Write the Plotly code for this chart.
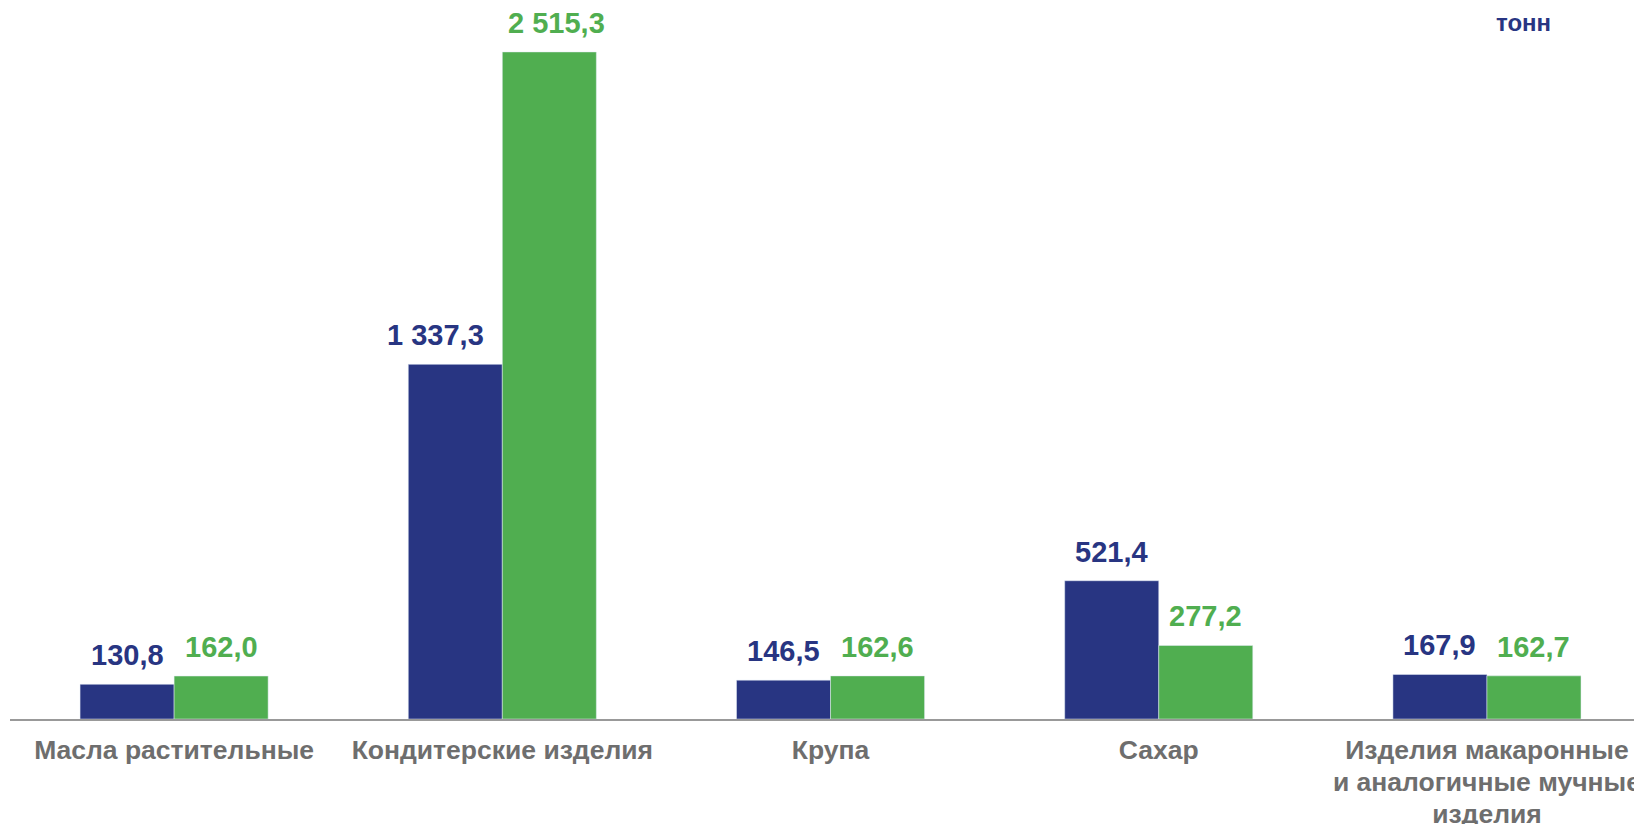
import plotly.graph_objects as go

categories = [
    "Масла растительные",
    "Кондитерские изделия",
    "Крупа",
    "Сахар",
    "Изделия макаронные<br>и аналогичные мучные<br>изделия",
]
series_blue = [130.8, 1337.3, 146.5, 521.4, 167.9]
series_green = [162.0, 2515.3, 162.6, 277.2, 162.7]
labels_blue = ["130,8", "1 337,3", "146,5", "521,4", "167,9"]
labels_green = ["162,0", "2 515,3", "162,6", "277,2", "162,7"]
unit_label = "тонн"

BLUE = "#283582"
GREEN = "#50AE50"
GREY = "#6E6E6E"
FONT = "Liberation Sans, Arial, sans-serif"

# small horizontal nudges of some value labels (px), as in the original layout
NUDGE_BLUE = {1: -20}
NUDGE_GREEN = {1: 7}

W, H = 1634, 824
ML, MR, MT, MB = 10, 0, 8, 105
XR = [-0.5, 4.448]
YR = [0, 2681]
BARGAP = 0.427

fig = go.Figure()
fig.add_trace(go.Bar(x=categories, y=series_blue, marker_color=BLUE, showlegend=False,
                     hoverinfo="skip"))
fig.add_trace(go.Bar(x=categories, y=series_green, marker_color=GREEN, showlegend=False,
                     hoverinfo="skip"))

cat_px = (W - ML - MR) / (XR[1] - XR[0])
half_bar = cat_px * (1 - BARGAP) / 4

annotations = []
for i, (cat, v, t) in enumerate(zip(categories, series_blue, labels_blue)):
    annotations.append(dict(x=cat, y=v, text=t, showarrow=False, xanchor="center",
                            yanchor="bottom", xshift=-half_bar + NUDGE_BLUE.get(i, 0), yshift=11,
                            font=dict(family=FONT, size=29, color=BLUE, weight="bold")))
for i, (cat, v, t) in enumerate(zip(categories, series_green, labels_green)):
    annotations.append(dict(x=cat, y=v, text=t, showarrow=False, xanchor="center",
                            yanchor="bottom", xshift=half_bar + NUDGE_GREEN.get(i, 0), yshift=11,
                            font=dict(family=FONT, size=29, color=GREEN, weight="bold")))
annotations.append(dict(x=(1523 - ML) / (W - ML - MR), y=1, xref="paper", yref="paper",
                        text=unit_label, showarrow=False, xanchor="center", yanchor="top",
                        yshift=1,
                        font=dict(family=FONT, size=24, color=BLUE, weight="bold")))

ticktext = ['<span style="font-size:26.5px">' + "</span><br><span style=\"font-size:26.5px\">".join(c.split("<br>")) + "</span>"
            for c in categories]

fig.update_layout(
    width=W, height=H,
    margin=dict(l=ML, r=MR, t=MT, b=MB, pad=0, autoexpand=False),
    paper_bgcolor="white", plot_bgcolor="white",
    barmode="group", bargap=BARGAP, bargroupgap=0,
    annotations=annotations,
    xaxis=dict(range=XR, showgrid=False, showline=True, linecolor="#999999", linewidth=1.5,
               ticks="outside", ticklen=9, tickcolor="rgba(0,0,0,0)", automargin=False,
               tickmode="array", tickvals=categories, ticktext=ticktext,
               tickfont=dict(family=FONT, size=24.5, color=GREY, weight="bold"),
               fixedrange=True),
    yaxis=dict(range=YR, visible=False, showgrid=False, zeroline=False, fixedrange=True,
               automargin=False),
)

fig.write_html(
    "out.html",
    config={"displayModeBar": False, "staticPlot": True},
    post_script="document.body.style.margin='0';"
                "document.documentElement.style.overflow='hidden';",
)
